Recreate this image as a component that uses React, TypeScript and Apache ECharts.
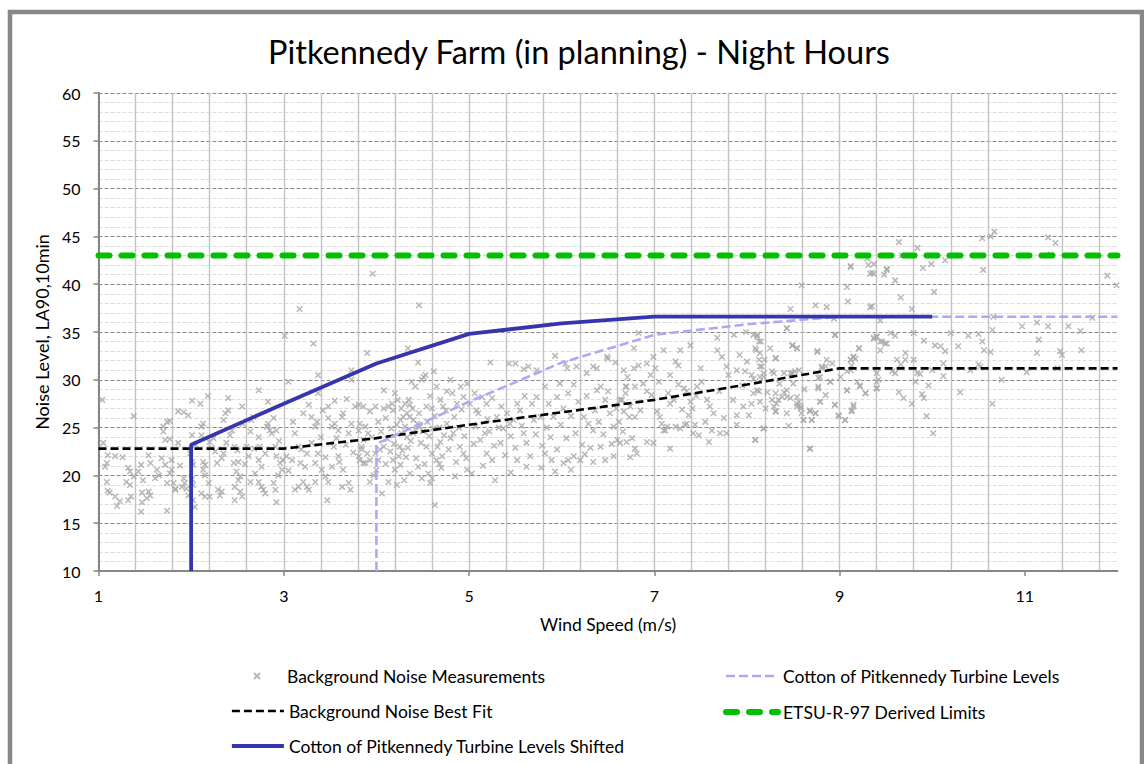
import React, { useEffect, useRef } from 'react';
import * as echarts from 'echarts';

const TITLE = 'Pitkennedy Farm (in planning) - Night Hours';
const X_NAME = 'Wind Speed (m/s)';
const Y_NAME = 'Noise Level, LA90,10min';

const X_MIN = 1;
const X_MAX = 12;
const X_STEP = 2;
const X_TICKS = [1, 3, 5, 7, 9, 11];
const Y_MIN = 10;
const Y_MAX = 60;
const Y_STEP = 5;

const SERIES_NAMES = [
  'Background Noise Measurements',
  'Background Noise Best Fit',
  'Cotton of Pitkennedy Turbine Levels',
  'ETSU-R-97 Derived Limits',
  'Cotton of Pitkennedy Turbine Levels Shifted',
];

const fitSpeed = [1, 2, 3, 4, 5, 6, 7, 8, 9, 10, 11, 12];
const fitLevel = [22.8, 22.8, 22.8, 23.9, 25.3, 26.6, 27.9, 29.5, 31.2, 31.2, 31.2, 31.2];

const cottonSpeed = [4, 4, 5, 6, 7, 8, 9, 10, 11, 12];
const cottonLevel = [10, 23.3, 27.7, 31.8, 34.7, 35.8, 36.6, 36.6, 36.6, 36.6];

const shiftedSpeed = [2, 2, 3, 4, 5, 6, 7, 8, 9, 10];
const shiftedLevel = [10, 23.2, 27.5, 31.7, 34.8, 35.9, 36.6, 36.6, 36.6, 36.6];

const limitSpeed = [1, 12];
const limitLevel = [43, 43];

const measurements: number[][] = [
  [1.04,27.9],[1.38,26.2],[1.05,23.4],[1.10,22.1],[1.18,22.0],[1.26,21.9],[1.09,21.3],[1.07,20.9],[1.09,19.3],[1.10,18.4],
  [1.12,18.2],[1.18,17.8],[1.23,17.3],[1.20,16.8],[1.32,20.8],[1.34,20.4],[1.43,20.4],[1.38,19.9],[1.30,19.3],[1.34,19.0],
  [1.32,17.4],[1.35,17.8],[1.46,21.1],[1.48,19.5],[1.47,18.2],[1.47,17.2],[1.46,16.2],[1.54,22.1],[1.56,21.3],[1.54,18.3],
  [1.56,17.9],[1.52,17.6],[1.63,20.6],[1.65,20.0],[1.61,19.7],[1.68,21.8],[1.70,25.1],[1.70,24.6],[1.74,25.6],[1.77,25.7],
  [1.72,23.7],[1.72,21.1],[1.74,19.2],[1.81,19.2],[1.83,18.6],[1.83,18.5],[1.74,16.3],[1.77,23.8],[1.79,21.6],[1.79,20.6],
  [1.77,20.2],[1.86,26.7],[1.92,26.6],[1.97,26.3],[2.01,27.8],[1.86,23.4],[1.88,21.0],[1.92,19.7],[1.93,19.2],[1.90,18.8],
  [1.95,18.6],[1.97,17.9],[1.99,22.3],[2.01,21.4],[2.01,19.6],[2.02,19.0],[2.01,24.2],[2.02,21.1],[2.02,17.4],[2.04,16.7],
  [2.10,27.5],[2.13,25.4],[2.11,25.1],[2.11,24.2],[2.13,21.4],[2.15,21.1],[2.13,20.6],[2.15,20.0],[2.19,19.2],[2.11,18.1],
  [2.15,17.8],[2.20,17.8],[2.18,28.3],[2.20,23.5],[2.24,23.9],[2.26,22.5],[2.28,21.3],[2.35,22.3],[2.33,21.8],[2.29,18.5],
  [2.33,18.3],[2.31,17.9],[2.37,26.5],[2.40,26.8],[2.35,25.8],[2.40,28.1],[2.42,24.2],[2.44,24.7],[2.47,23.0],[2.46,21.3],
  [2.51,21.4],[2.49,20.4],[2.53,19.9],[2.47,18.8],[2.51,19.5],[2.53,18.3],[2.55,17.8],[2.47,17.4],[2.55,27.2],[2.56,25.4],
  [2.60,23.0],[2.62,22.0],[2.64,24.6],[2.65,25.8],[2.64,19.3],[2.67,26.1],[2.73,28.9],[2.73,24.0],[2.74,23.0],[2.73,21.6],
  [2.76,20.9],[2.69,20.2],[2.73,19.3],[2.76,18.8],[2.78,18.5],[2.80,18.1],[2.82,25.1],[2.83,25.4],[2.85,24.7],[2.87,24.4],
  [2.83,27.7],[2.89,26.0],[2.92,24.7],[2.91,23.0],[2.92,22.0],[2.96,21.3],[2.98,20.6],[2.94,20.0],[2.89,19.2],[2.91,18.5],
  [2.92,17.2],[3.01,34.6],[3.05,29.8],[3.17,37.4],[3.32,33.8],[3.37,30.5],[2.99,21.6],[3.03,22.0],[3.09,21.6],[3.12,24.4],
  [3.16,23.0],[3.19,22.7],[3.18,21.3],[3.23,20.9],[3.12,18.5],[3.16,18.8],[3.21,19.3],[3.25,18.8],[3.27,18.5],[3.34,19.3],
  [3.21,26.5],[3.27,27.4],[3.30,26.1],[3.34,25.1],[3.36,25.6],[3.37,28.6],[3.30,23.4],[3.37,22.3],[3.34,21.3],[3.41,20.6],
  [3.45,19.9],[3.48,19.3],[3.47,17.4],[3.48,27.2],[3.48,26.0],[3.52,25.1],[3.55,25.4],[3.57,23.9],[3.59,24.7],[3.63,26.1],
  [3.64,26.5],[3.54,23.0],[3.59,22.0],[3.64,20.6],[3.63,18.8],[3.70,19.2],[3.72,18.5],[3.73,31.0],[3.73,30.0],[3.77,27.2],
  [3.81,27.4],[3.73,25.4],[3.70,24.4],[3.81,24.7],[3.84,22.7],[3.81,22.0],[3.86,21.3],
  [3.96,41.1],[4.46,37.8],[3.90,32.8],[4.34,33.3],[4.45,31.8],[5.23,31.8],[5.43,31.7],[5.50,31.7],[5.59,31.1],[5.64,31.4],
  [5.73,31.0],[5.93,32.5],[6.04,31.7],[6.06,31.2],[6.16,31.4],[6.27,30.7],[6.34,31.4],[6.38,31.2],[6.49,32.4],[6.50,32.2],
  [6.58,31.8],[3.86,27.2],[3.99,27.2],[3.93,26.7],[4.08,27.0],[4.13,27.2],[4.17,27.5],[4.18,26.8],[4.08,28.9],[4.20,28.6],
  [4.27,27.0],[4.31,27.5],[4.35,27.9],[4.36,27.4],[4.42,29.3],[4.38,29.8],[4.49,30.0],[4.51,30.3],[4.53,30.5],[4.62,30.9],
  [3.82,25.4],[3.88,25.1],[3.91,24.4],[3.86,23.7],[3.84,23.0],[3.90,22.3],[3.82,21.6],[3.88,21.3],[3.93,21.6],[3.99,22.3],
  [4.04,22.7],[4.08,23.0],[4.02,21.6],[4.00,20.6],[3.93,19.3],[4.06,18.1],[4.13,19.3],[4.20,20.6],[4.18,21.6],[4.24,22.0],
  [4.26,21.1],[4.15,22.5],[4.26,25.8],[4.29,26.1],[4.33,26.5],[4.36,26.1],[4.40,25.8],[4.44,25.4],[4.47,25.1],[4.40,24.4],
  [4.33,24.0],[4.27,24.4],[4.36,20.2],[4.49,19.7],[4.56,20.2],[4.60,19.7],[4.63,16.9],[4.54,23.0],[4.60,22.3],[4.65,21.6],
  [4.69,23.5],[4.71,22.0],[4.54,27.2],[4.60,27.0],[4.65,29.3],[4.69,27.9],[4.72,27.2],[4.76,28.8],[4.80,30.0],[4.82,28.6],
  [4.87,27.5],[4.91,29.3],[4.94,28.2],[4.98,29.6],[5.01,27.5],[5.06,28.6],[5.08,26.8],[4.76,25.4],[4.83,24.4],[4.90,23.0],
  [4.94,22.3],[4.98,20.6],[5.03,20.2],[5.07,25.1],[5.12,23.7],[5.17,24.4],[5.19,22.3],[5.25,21.6],[5.28,19.5],[5.34,23.4],
  [5.37,24.9],[5.14,28.2],[5.19,27.5],[5.25,28.1],[5.30,26.1],[5.35,27.2],[5.41,26.5],[5.44,25.4],[5.48,25.8],[5.52,27.5],
  [5.55,26.8],[5.59,24.4],[5.62,23.4],[5.68,27.5],[5.70,25.8],[5.73,28.2],[5.77,26.1],[5.82,29.3],[5.86,27.5],[5.91,26.1],
  [5.95,28.2],[5.98,29.6],[6.02,27.0],[6.07,28.6],[6.13,29.5],[6.18,27.7],[6.24,26.1],[6.29,25.4],[6.34,24.7],[6.38,28.9],
  [6.42,29.3],[6.47,27.9],[6.52,26.5],[6.56,25.1],[6.60,23.7],[6.63,27.9],[6.69,29.3],[6.73,26.1],[5.82,22.3],[5.89,21.6],
  [5.95,22.7],[6.02,21.3],[6.07,21.6],[6.13,22.0],[6.20,21.6],[6.34,21.4],[6.47,21.6],[6.56,22.0],[6.63,23.4],[6.42,23.0],
  [5.52,21.6],[5.62,20.9],
  [9.12,41.9],[9.37,41.1],[9.31,42.0],[9.51,41.5],[8.59,39.9],[9.08,39.7],[9.09,38.2],[8.47,37.4],[8.74,37.8],[8.86,37.6],
  [8.94,36.4],[9.33,37.6],[8.43,35.4],[8.49,33.6],[8.54,33.3],[8.76,33.0],[8.95,34.7],[9.12,32.1],[9.15,32.4],[9.21,33.3],
  [9.37,34.3],[9.40,34.5],[9.46,34.0],[9.51,33.8],[6.83,34.9],[6.78,33.3],[7.10,33.1],[7.28,33.1],[7.39,33.6],[7.68,34.4],
  [7.68,33.1],[7.73,32.4],[7.86,34.7],[7.99,35.0],[8.11,34.7],[8.15,34.0],[8.10,33.1],[8.19,32.1],[8.31,32.2],[8.00,31.9],
  [6.67,31.0],[6.78,31.2],[6.83,31.5],[6.92,31.7],[6.99,32.4],[7.01,31.2],[6.96,30.5],[6.88,29.6],[6.79,29.3],[6.70,29.3],
  [6.69,28.6],[6.65,27.9],[6.74,27.2],[6.67,26.7],[6.79,26.1],[6.85,26.8],[6.92,28.8],[6.97,28.4],[7.03,26.7],[7.06,26.1],
  [7.08,25.4],[7.10,24.7],[7.14,25.1],[7.17,27.5],[7.21,27.9],[7.17,30.5],[7.23,31.9],[7.26,31.5],[7.26,29.5],[7.32,29.1],
  [7.35,28.8],[7.39,27.7],[7.41,27.0],[7.37,26.3],[7.35,25.4],[7.44,25.3],[7.42,24.4],[7.48,24.2],[7.46,29.3],[7.51,29.8],
  [7.57,27.9],[7.60,27.2],[7.64,26.5],[7.62,24.7],[7.71,24.4],[7.78,24.4],[7.59,23.5],[7.78,31.4],[7.80,30.5],[7.89,31.0],
  [7.98,30.9],[8.07,30.1],[8.11,28.9],[8.14,31.4],[8.18,30.3],[8.22,28.7],[8.27,30.9],[8.31,28.6],[8.29,27.2],[8.34,27.9],
  [8.40,28.7],[8.43,28.2],[8.47,30.7],[8.52,30.9],[8.56,31.0],[8.50,29.6],[8.54,27.5],[8.58,27.2],[8.61,25.8],[8.59,26.5],
  [8.68,26.7],[8.70,25.8],[8.74,26.5],[8.68,22.8],[8.79,27.7],[8.81,31.2],[8.85,31.4],[8.77,29.3],[8.79,30.3],[8.90,29.8],
  [8.95,27.4],[8.99,26.3],[9.01,30.3],[9.08,30.9],[9.12,31.0],[9.13,31.5],[9.08,28.9],[9.15,27.2],[9.13,26.7],[9.17,32.2],
  [9.22,29.4],[9.28,28.6],[9.06,25.8],[9.40,30.7],[9.42,30.0],[9.40,29.1],[9.44,33.1],
  [6.70,23.5],[6.76,23.9],[6.79,22.8],[6.74,21.9],[6.81,22.3],[6.92,23.5],[6.99,23.4],[7.12,24.7],[7.17,22.8],[7.23,25.1],
  [7.28,24.9],[7.33,25.3],[7.89,26.3],[7.89,25.3],[7.96,27.2],[8.09,23.7],[8.18,24.9],[8.31,26.7],[8.43,26.5],
  [9.30,42.7],[9.12,41.8],[9.33,41.1],
  [8.07,34.7],[8.11,34.5],[8.13,34.0],[8.09,33.3],[8.14,32.8],[8.13,32.1],[8.16,31.4],[8.18,30.7],[8.05,30.5],[8.14,30.3],
  [8.13,28.8],[8.07,28.6],[8.05,27.5],[8.14,27.7],[8.09,23.7],[8.18,24.9],[8.31,32.3],[8.29,30.7],[8.31,26.7],[8.27,27.9],
  [8.32,27.5],[8.43,35.4],[8.49,33.6],[8.54,33.3],[8.40,30.7],[8.49,30.7],[8.43,28.9],[8.38,28.2],[8.47,28.1],[8.54,28.2],
  [8.56,27.7],[8.58,27.0],[8.61,25.8],[8.54,27.2],[8.68,26.8],[8.70,25.8],[8.74,26.5],[8.76,32.9],[8.77,30.2],[8.77,29.1],
  [8.79,27.7],[8.81,31.4],[8.86,32.1],[8.92,31.7],[8.95,34.7],[8.95,27.4],[8.99,26.2],[8.90,29.8],[9.08,28.9],[9.06,25.8],
  [9.13,26.8],[9.15,27.4],[9.19,29.8],[9.22,29.3],[9.28,28.6],[9.12,32.1],[9.15,32.4],[9.21,33.3],[8.68,22.8],
  [9.64,44.4],[9.84,43.8],[9.67,43.0],[9.37,42.1],[9.35,41.2],[9.51,41.6],[9.48,41.0],[9.60,40.4],[9.90,41.7],[9.99,42.1],
  [10.14,42.5],[9.66,38.6],[10.02,39.2],[9.78,37.4],[9.35,37.7],[10.54,44.8],[10.63,45.0],[10.67,45.5],[10.55,41.5],[11.25,44.9],
  [11.33,44.3],[11.28,43.1],[11.89,40.9],[11.99,39.9],[10.66,36.6],[10.65,35.2],[10.97,35.6],[11.13,36.0],[11.25,35.6],[11.47,35.6],
  [11.60,35.1],[11.73,36.5],[9.44,36.2],[9.37,34.4],[9.40,34.5],[9.44,34.0],[9.49,33.8],[9.55,34.9],[9.60,34.6],[9.80,34.9],
  [9.91,34.1],[10.03,33.6],[10.09,33.5],[10.14,33.0],[10.20,34.9],[10.28,33.5],[10.39,34.6],[10.50,34.8],[10.54,34.0],[10.56,33.1],
  [10.63,32.9],[11.15,34.2],[11.13,32.8],[11.38,33.0],[11.40,32.6],[11.61,33.1],[9.71,32.8],[9.62,32.1],[9.71,32.1],[9.80,32.1],
  [9.66,31.6],[9.57,30.9],[9.60,30.7],[9.84,30.7],[9.87,30.6],[10.00,31.0],[10.12,31.7],[10.12,30.4],[10.41,31.0],[10.50,31.6],
  [10.52,31.4],[10.75,30.0],[11.02,30.8],[11.35,31.2],[9.40,29.8],[9.40,29.1],[9.64,28.7],[9.69,28.1],[9.78,27.5],[9.89,28.5],
  [9.91,28.1],[9.96,29.4],[9.82,29.8],[10.30,28.7],[10.65,27.5],[9.94,26.2],[10.01,24.4],
  [3.95,24.0],[4.02,25.6],[4.05,24.6],[4.10,26.0],[4.12,23.8],[4.16,24.9],[4.19,23.3],[4.22,25.3],[4.23,27.9],[4.25,23.0],
  [4.28,22.6],[4.31,25.1],[4.34,22.9],[4.37,23.6],[4.39,27.0],[4.42,24.8],[4.43,21.8],[4.46,26.5],[4.48,23.4],[4.50,24.6],
  [4.52,21.2],[4.55,25.6],[4.57,24.1],[4.58,28.3],[4.61,24.9],[4.63,26.2],[4.66,23.0],[4.68,25.0],[4.70,20.8],[4.73,24.2],
  [4.75,26.8],[4.78,22.7],[4.80,23.9],[4.84,26.1],[4.86,21.4],[4.89,25.0],[4.92,26.9],[4.95,24.1],[4.97,21.8],[3.97,20.0],
  [4.10,21.2],[4.22,19.0],[4.32,21.9],[4.45,20.9],[4.58,19.2],[4.68,21.2],[4.85,19.9],[4.30,19.5],
  [5.05,23.3],[5.10,26.5],[5.15,21.0],[5.20,25.9],[5.22,24.6],[5.27,23.1],[5.32,25.0],[5.39,22.1],[5.45,24.1],[5.50,22.9],
  [5.57,25.2],[5.60,28.3],[5.66,22.0],[5.72,24.3],[5.79,23.1],[5.84,25.0],[5.88,24.0],[5.93,20.4],[5.99,25.3],[6.05,23.9],
  [6.10,26.2],[6.15,24.4],[6.22,23.2],[6.27,28.3],[6.31,22.9],[6.36,26.8],[6.40,25.6],[6.45,24.3],[6.50,28.8],[6.54,23.3],
  [6.59,27.0],[6.62,25.6],[6.66,24.6],[6.71,30.3],[5.45,20.3],[5.78,20.8],[6.10,20.6],[6.25,22.2],
  [2.05,23.2],[2.22,22.9],[2.38,23.4],[2.50,22.6],[2.58,21.2],[2.68,22.8],[2.80,22.3],[2.95,23.6],[3.05,20.5],[3.10,25.6],
  [3.25,22.3],[3.40,24.0],[3.45,21.9],[3.52,20.9],[3.60,21.4],[3.67,23.2],[3.75,22.4],[3.42,26.8],[3.55,27.8],[3.68,28.0],
  [7.05,29.8],[7.15,28.6],[7.30,26.9],[7.45,28.3],[7.55,25.6],[7.70,28.8],[7.75,26.0],[7.85,27.9],[7.95,29.4],[8.02,26.3],
  [8.20,27.0],[8.35,29.6],[8.45,25.2],[8.62,29.0],[8.85,28.4],[7.50,31.2],[7.92,32.6],[8.25,33.3],
];

const X_OFFSET = X_MIN;
const toXY = (xs: number[], ys: number[]) => xs.map((x, i) => [x - X_OFFSET, ys[i]]);

const FONT = 'Lato';
const GRID_V = '#c3c3c3';
const LEGEND_TEXT = { fontFamily: FONT, fontSize: 17.5, color: '#000' };

const FIT_LINE = { color: '#000000', width: 2.6, type: [8, 4] };
const COTTON_LINE = { color: '#aaaaf8', width: 2.6, type: [9, 4] };
const LIMIT_LINE = { color: '#00c000', width: 6, type: [11, 12], cap: 'round' };
const SHIFTED_LINE = { color: '#3535ad', width: 3.8 };

export default function App() {
  const ref = useRef<HTMLDivElement>(null);

  useEffect(() => {
    if (!ref.current) return;
    const chart = echarts.init(ref.current, undefined, { renderer: 'svg' });
    const xTickValues = X_TICKS.map((t) => t - X_OFFSET);
    const option: any = {
      animation: false,
      backgroundColor: '#ffffff',
      textStyle: { fontFamily: FONT },
      title: {
        text: TITLE,
        left: 574,
        top: 30,
        textAlign: 'center',
        textStyle: { fontFamily: FONT, fontSize: 32.5, fontWeight: 'normal', color: '#000' },
      },
      graphic: [
        {
          type: 'rect',
          silent: true,
          shape: { x: 10, y: 12, width: 1132, height: 800 },
          style: { fill: 'none', stroke: '#888888', lineWidth: 4.5 },
          z: 100,
        },
      ],
      grid: { left: 98.5, right: 26.5, top: 93, bottom: 193, containLabel: false },
      xAxis: {
        type: 'value',
        min: 0,
        max: X_MAX - X_OFFSET,
        interval: X_STEP,
        name: X_NAME,
        nameLocation: 'middle',
        nameGap: 44,
        nameTextStyle: { fontFamily: FONT, fontSize: 17.5, color: '#000' },
        axisLine: { show: true, onZero: false, lineStyle: { color: '#868686', width: 2 } },
        axisTick: { show: true, length: 5, customValues: xTickValues, lineStyle: { color: '#868686', width: 1.5 } },
        axisLabel: {
          customValues: xTickValues,
          formatter: (v: number) => String(Math.round((v + X_OFFSET) * 10) / 10),
          fontFamily: FONT,
          fontSize: 16,
          color: '#000',
          margin: 16,
        },
        splitLine: { show: true, showMaxLine: false, lineStyle: { color: GRID_V, width: 1.4 } },
        minorTick: { show: false, splitNumber: 5 },
        minorSplitLine: { show: true, lineStyle: { color: GRID_V, width: 1.4 } },
      },
      yAxis: {
        type: 'value',
        min: Y_MIN,
        max: Y_MAX,
        interval: Y_STEP,
        name: Y_NAME,
        nameLocation: 'middle',
        nameGap: 44,
        nameTextStyle: { fontFamily: FONT, fontSize: 18, color: '#000' },
        axisLine: { show: true, lineStyle: { color: '#868686', width: 2 } },
        axisTick: { show: true, length: 5, lineStyle: { color: '#868686', width: 1.5 } },
        axisLabel: { fontFamily: FONT, fontSize: 16, color: '#000', margin: 18 },
        splitLine: { show: true, lineStyle: { color: '#8a8a8a', width: 1.2, type: [4, 2] } },
        minorTick: { show: false, splitNumber: 5 },
        minorSplitLine: { show: true, lineStyle: { color: '#dcdcdc', width: 1, type: [4, 2] } },
      },
      legend: [
        {
          data: [SERIES_NAMES[0]],
          left: 253,
          top: 667,
          padding: 0,
          orient: 'vertical',
          itemWidth: 6,
          itemHeight: 6,
          textStyle: { ...LEGEND_TEXT, padding: [0, 0, 0, 22] },
          selectedMode: false,
        },
        {
          data: [
            { name: SERIES_NAMES[1], lineStyle: FIT_LINE },
            { name: SERIES_NAMES[4], lineStyle: SHIFTED_LINE },
          ],
          left: 230,
          top: 702,
          padding: 0,
          orient: 'vertical',
          itemWidth: 52,
          itemHeight: 14,
          itemGap: 17,
          itemStyle: { opacity: 0 },
          textStyle: LEGEND_TEXT,
          selectedMode: false,
        },
        {
          data: [
            { name: SERIES_NAMES[2], lineStyle: COTTON_LINE },
            { name: SERIES_NAMES[3], lineStyle: LIMIT_LINE },
          ],
          left: 723,
          top: 667,
          padding: 0,
          orient: 'vertical',
          itemWidth: 52,
          itemHeight: 14,
          itemGap: 18,
          itemStyle: { opacity: 0 },
          textStyle: LEGEND_TEXT,
          selectedMode: false,
        },
      ],
      series: [
        {
          name: SERIES_NAMES[0],
          type: 'scatter',
          data: measurements.map(([x, y]) => [x - X_OFFSET, y]),
          symbol: 'path://M0,0L10,10M10,0L0,10',
          symbolSize: 5.5,
          itemStyle: { color: 'rgba(0,0,0,0)', borderColor: '#a6a6a6', borderWidth: 1.5 },
          z: 2,
        },
        {
          name: SERIES_NAMES[1],
          type: 'line',
          data: toXY(fitSpeed, fitLevel),
          symbol: 'none',
          lineStyle: FIT_LINE,
          itemStyle: { color: FIT_LINE.color },
          z: 3,
        },
        {
          name: SERIES_NAMES[2],
          type: 'line',
          data: toXY(cottonSpeed, cottonLevel),
          symbol: 'none',
          lineStyle: COTTON_LINE,
          itemStyle: { color: COTTON_LINE.color },
          z: 4,
        },
        {
          name: SERIES_NAMES[3],
          type: 'line',
          data: toXY(limitSpeed, limitLevel),
          symbol: 'none',
          lineStyle: LIMIT_LINE,
          itemStyle: { color: LIMIT_LINE.color },
          z: 5,
        },
        {
          name: SERIES_NAMES[4],
          type: 'line',
          data: toXY(shiftedSpeed, shiftedLevel),
          symbol: 'none',
          lineStyle: SHIFTED_LINE,
          itemStyle: { color: SHIFTED_LINE.color },
          z: 6,
        },
      ],
    };
    chart.setOption(option);
    return () => chart.dispose();
  }, []);

  return (
    <div
      ref={ref}
      style={{ position: 'fixed', left: 0, top: 0, width: 1144, height: 764, background: '#fff' }}
    />
  );
}
